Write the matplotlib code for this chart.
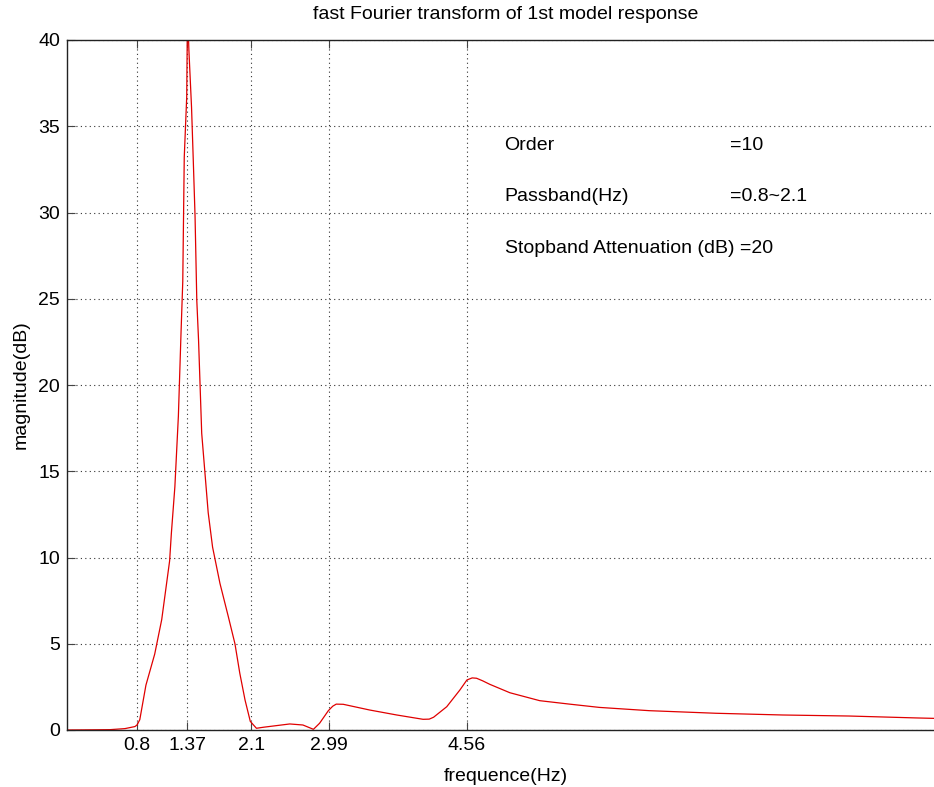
"""FFT magnitude of the 1st model response, MATLAB-style figure."""
import matplotlib
matplotlib.use("Agg")
import matplotlib.pyplot as plt

# frequency (Hz) and magnitude (dB)
freq = [0.0, 0.49, 0.66, 0.775, 0.80, 0.83, 0.90, 1.0, 1.08, 1.17, 1.19, 1.23,
        1.27, 1.30, 1.32, 1.337, 1.365, 1.371, 1.38, 1.39, 1.42, 1.44, 1.46,
        1.48, 1.50, 1.536, 1.573, 1.61, 1.66, 1.744, 1.838, 1.915, 1.97, 2.03,
        2.09, 2.16, 2.24, 2.54, 2.69, 2.81, 2.88, 2.98, 3.03, 3.07, 3.15, 3.45,
        3.76, 4.06, 4.13, 4.18, 4.33, 4.48, 4.56, 4.62, 4.67, 4.74, 4.82, 5.05,
        5.39, 5.73, 6.07, 6.64, 7.40, 8.16, 8.92, 9.68, 10.0]
mag = [0.0, 0.02, 0.08, 0.2, 0.3, 0.6, 2.6, 4.4, 6.4, 9.8, 11.4, 14.1,
       18.2, 23.0, 26.0, 33.2, 36.7, 40.0, 41.0, 39.4, 36.1, 33.0, 29.8,
       24.9, 22.6, 17.2, 14.9, 12.6, 10.6, 8.5, 6.6, 5.0, 3.3, 1.74,
       0.5, 0.1, 0.16, 0.35, 0.29, 0.04, 0.39, 1.12, 1.38, 1.5, 1.49, 1.16,
       0.87, 0.62, 0.63, 0.74, 1.35, 2.32, 2.9, 3.02, 3.0, 2.85, 2.65, 2.16,
       1.70, 1.5, 1.31, 1.12, 0.97, 0.87, 0.81, 0.70, 0.66]

xticks = [0.8, 1.37, 2.1, 2.99, 4.56]
yticks = [0, 5, 10, 15, 20, 25, 30, 35, 40]
info_left = ["Order", "Passband(Hz)", "Stopband Attenuation (dB) =20"]
info_right = ["=10", "=0.8~2.1", ""]

plt.rcParams["font.family"] = ["Liberation Sans", "DejaVu Sans"]
FS = 14

fig = plt.figure(figsize=(9.34, 7.87), dpi=100)
# axes run out to 10 Hz, just past the right edge of the picture (as in the original crop)
ax = fig.add_axes([67 / 934, 57 / 787, 877 / 934, 690 / 787])

ax.plot(freq, mag, color="#e00000", lw=0.9)

ax.set_xlim(0, 10)
ax.set_ylim(0, 40)
ax.set_xticks(xticks)
ax.set_xticklabels([f"{t:g}" for t in xticks])
ax.set_yticks(yticks)
ax.tick_params(direction="in", length=6, width=0.8, colors="#444444",
               labelcolor="black", labelsize=FS, top=True, right=True, pad=5)
ax.grid(True, ls=(0, (1, 3)), color="#333333", lw=0.8)
for s in ax.spines.values():
    s.set_linewidth(1.0)
    s.set_color("#222222")

ax.set_title("fast Fourier transform of 1st model response", fontsize=FS, pad=15)
ax.set_xlabel("frequence(Hz)", fontsize=FS, labelpad=10)
ax.set_ylabel("magnitude(dB)", fontsize=FS, labelpad=6)

ys = [33.9, 30.9, 27.9]
for y, left, right in zip(ys, info_left, info_right):
    ax.text(4.99, y, left, fontsize=FS, ha="left", va="center")
    if right:
        ax.text(7.56, y, right, fontsize=FS, ha="left", va="center")

fig.savefig("out.png", dpi=100)
